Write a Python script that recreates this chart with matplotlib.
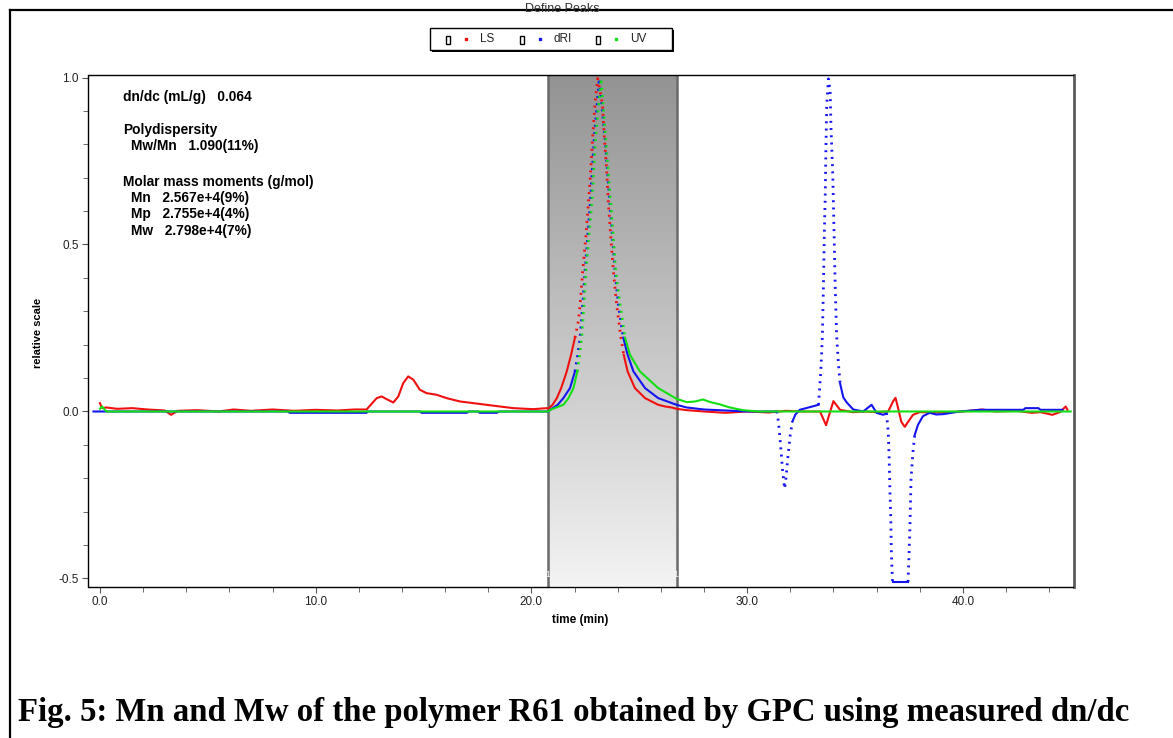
import numpy as np
import matplotlib
matplotlib.use('Agg')
import matplotlib.pyplot as plt
from matplotlib.colors import LinearSegmentedColormap
from matplotlib.patches import Rectangle
from matplotlib.lines import Line2D

plt.rcParams['font.family'] = ['Liberation Sans', 'DejaVu Sans']

# ---- data ----
ls_t = [0.0, 0.1, 0.3, 0.8, 1.5, 2.2, 3.0, 3.3, 3.6, 4.5, 5.5, 6.2, 7.0, 8.0, 9.0, 10.0, 11.0, 11.8,
        12.36, 12.83, 13.06, 13.29, 13.6, 13.83, 14.06, 14.29, 14.53, 14.83, 15.14, 15.61, 16.07, 16.69,
        17.31, 17.92, 18.54, 19.16, 20.09, 20.71, 20.79, 20.98, 21.18, 21.38, 21.64, 21.84, 22.02, 22.18,
        22.26, 22.38, 22.52, 22.64, 22.75, 22.84, 22.95, 23.07, 23.29, 23.38, 23.49, 23.57, 23.68, 23.8,
        23.95, 24.15, 24.28, 24.46, 24.8, 25.27, 25.88, 26.2, 26.5, 26.73, 27.2, 28.0, 29.0, 30.0, 31.0,
        31.8, 32.5, 33.38, 33.66, 34.0, 34.31, 34.92, 35.5, 36.0, 36.54, 36.77, 36.88, 37.0, 37.15, 37.31,
        37.46, 37.69, 38.0, 39.0, 40.0, 40.9, 41.5, 42.5, 43.2, 43.6, 44.15, 44.5, 44.77, 44.85]
ls_v = [0.025, 0.01, 0.012, 0.008, 0.01, 0.006, 0.003, -0.01, 0.002, 0.004, 0.0, 0.006, 0.002, 0.006,
        0.002, 0.005, 0.003, 0.006, 0.006, 0.040, 0.045, 0.037, 0.027, 0.045, 0.085, 0.105, 0.095, 0.065,
        0.055, 0.05, 0.04, 0.03, 0.025, 0.02, 0.015, 0.01, 0.007, 0.01, 0.008, 0.02, 0.04, 0.07, 0.12,
        0.17, 0.221, 0.271, 0.321, 0.421, 0.521, 0.622, 0.722, 0.822, 0.922, 0.997, 0.922, 0.822, 0.722,
        0.622, 0.521, 0.421, 0.321, 0.221, 0.17, 0.12, 0.07, 0.04, 0.02, 0.015, 0.012, 0.008, 0.004, 0.0,
        -0.004, 0.0, -0.003, 0.002, 0.0, 0.0, -0.041, 0.031, 0.005, -0.002, 0.0, -0.002, 0.0, 0.031,
        0.041, 0.01, -0.031, -0.046, -0.031, -0.01, -0.002, -0.003, 0.0, 0.006, 0.0, 0.002, -0.004,
        -0.002, -0.01, -0.002, 0.015, 0.005]

dri_t = [-0.3, 8.7, 8.8, 12.36, 12.4, 14.85, 14.9, 17.0, 17.1, 17.55, 17.6, 18.4, 18.5, 20.79, 20.87,
         21.22, 21.48, 21.79, 22.02, 22.15, 22.26, 22.38, 22.49, 22.73, 22.92, 23.15, 23.41, 23.64, 23.88,
         24.03, 24.26, 24.46, 24.73, 25.27, 25.88, 26.73, 27.2, 28.0, 29.0, 30.0, 31.0, 31.38, 31.45,
         31.55, 31.65, 31.74, 31.8, 31.9, 32.0, 32.1, 32.23, 32.44, 33.08, 33.31, 33.42, 33.49, 33.54,
         33.58, 33.62, 33.65, 33.69, 33.77, 33.85, 33.89, 33.97, 34.03, 34.08, 34.15, 34.23, 34.31, 34.46,
         34.62, 34.92, 35.38, 35.77, 36.0, 36.31, 36.46, 36.54, 36.58, 36.62, 36.66, 36.69, 36.74, 37.46,
         37.5, 37.55, 37.6, 37.69, 37.77, 37.92, 38.15, 38.46, 38.77, 39.08, 39.85, 40.8, 42.8, 42.9,
         43.5, 43.6, 44.62]
dri_v = [0.0, 0.0, -0.004, -0.004, 0.0, 0.0, -0.004, -0.004, 0.0, 0.0, -0.004, -0.004, 0.0, 0.0, 0.005,
         0.02, 0.04, 0.07, 0.12, 0.17, 0.221, 0.321, 0.421, 0.622, 0.822, 0.997, 0.822, 0.622, 0.421,
         0.321, 0.221, 0.17, 0.12, 0.07, 0.04, 0.02, 0.012, 0.006, 0.003, 0.0, 0.0, 0.0, -0.03,
         -0.1, -0.18, -0.231, -0.2, -0.13, -0.07, -0.03, -0.01, 0.005, 0.016, 0.02, 0.125, 0.228, 0.382,
         0.537, 0.64, 0.774, 0.918, 0.996, 0.96, 0.846, 0.712, 0.537, 0.382, 0.228, 0.145, 0.084, 0.042,
         0.027, 0.006, 0.0, 0.02, -0.004, -0.01, -0.005, -0.06, -0.13, -0.236, -0.32, -0.43, -0.51, -0.51,
         -0.44, -0.34, -0.2, -0.12, -0.07, -0.04, -0.014, -0.004, -0.009, -0.008, 0.0, 0.005, 0.005, 0.01,
         0.01, 0.005, 0.005]

uv_t = [0.0, 0.1, 0.3, 20.79, 20.87, 21.48, 21.72, 21.95, 22.13, 22.24, 22.33, 22.44, 22.53, 22.8, 22.98,
        23.23, 23.44, 23.68, 23.91, 24.11, 24.34, 24.57, 25.03, 25.88, 26.73, 27.2, 27.6, 27.95, 28.3,
        28.7, 29.2, 29.8, 30.5, 45.0]
uv_v = [0.008, 0.015, 0.0, 0.0, 0.005, 0.02, 0.04, 0.07, 0.12, 0.17, 0.221, 0.321, 0.421, 0.622, 0.822,
        0.997, 0.822, 0.622, 0.421, 0.321, 0.221, 0.17, 0.12, 0.07, 0.038, 0.028, 0.03, 0.036, 0.028,
        0.022, 0.012, 0.004, 0.0, 0.0]

peak_limits = [20.79, 26.73]
x_ticks = [0, 10, 20, 30, 40]
y_ticks = [-0.5, 0.0, 0.5, 1.0]

info_lines = [
    ("dn/dc (mL/g)   0.064", 123, 97),
    ("Polydispersity", 123, 130),
    ("Mw/Mn   1.090(11%)", 131, 146),
    ("Molar mass moments (g/mol)", 123, 182),
    ("Mn   2.567e+4(9%)", 131, 198),
    ("Mp   2.755e+4(4%)", 131, 214),
    ("Mw   2.798e+4(7%)", 131, 231),
]

RED, BLUE, GREEN = '#f01010', '#1414f0', '#12e012'

W, H = 1173, 738
fig = plt.figure(figsize=(W / 100, H / 100), dpi=100)
fig.patch.set_facecolor('white')

# axes placed in pixel terms
l, r, t, b = 88.5, 1073.5, 75, 586.5
ax = fig.add_axes([l / W, 1 - b / H, (r - l) / W, (b - t) / H])
xlim = (-0.53, 45.13)
ylim = (-0.524, 1.0075)

# shaded peak region with vertical gradient
cmap = LinearSegmentedColormap.from_list('pk', ['#939393', '#f3f3f3'])
grad = np.linspace(0, 1, 256).reshape(-1, 1)
ax.imshow(grad, extent=[peak_limits[0], peak_limits[1], ylim[0], ylim[1]], aspect='auto',
          cmap=cmap, origin='upper', zorder=0)
for p in peak_limits:
    ax.axvline(p, color='#6a6a6a', lw=1.8, zorder=1)
    ax.text(p - 0.05, -0.488, '1', color='#f4f4f4', fontsize=6.5, ha='center', va='center', zorder=1)

px_x = (r - l) / (xlim[1] - xlim[0])
px_y = (b - t) / (ylim[1] - ylim[0])


def draw(tt, vv, color, z):
    # steep stretches were sampled sparsely by the detector software -> dotted look
    tt = np.asarray(tt, float)
    vv = np.asarray(vv, float)
    steep = np.abs(np.diff(vv) / np.diff(tt)) * px_y / px_x > 4.5
    i = 0
    n = len(steep)
    while i < n:
        j = i
        while j < n and steep[j] == steep[i]:
            j += 1
        if steep[i]:
            ax.plot(tt[i:j + 1], vv[i:j + 1], color=color, lw=2.0, ls=(0, (0.7, 1.9)), zorder=z)
        else:
            ax.plot(tt[i:j + 1], vv[i:j + 1], color=color, lw=1.5, zorder=z, solid_joinstyle='round')
        i = j


draw(ls_t, ls_v, RED, 2)
draw(dri_t, dri_v, BLUE, 3)
draw(uv_t, uv_v, GREEN, 4)

ax.set_xlim(*xlim)
ax.set_ylim(*ylim)
ax.set_xticks(x_ticks)
ax.set_xticklabels(['%.1f' % v for v in x_ticks])
ax.set_xticks(np.arange(0, 46, 2), minor=True)
ax.set_yticks(y_ticks)
ax.set_yticklabels(['%.1f' % v for v in y_ticks])
ax.set_yticks(np.arange(-0.5, 1.01, 0.1), minor=True)
ax.tick_params(which='both', direction='out', color='#555555', labelcolor='#222222', labelsize=8.5)
ax.tick_params(which='major', length=4, pad=3)
ax.tick_params(which='minor', length=3.5)
for s in ['left', 'bottom', 'top']:
    ax.spines[s].set_linewidth(1.0)
    ax.spines[s].set_color('black')
ax.spines['right'].set_linewidth(2.0)
ax.spines['right'].set_color('#5c5c5c')

fig.text(38 / W, 1 - 333 / H, 'relative scale', rotation=90, fontsize=8, fontweight='bold',
         ha='center', va='center')
fig.text(580 / W, 1 - 620 / H, 'time (min)', fontsize=8.5, fontweight='bold', ha='center', va='center')

for txt, x, y in info_lines:
    fig.text(x / W, 1 - y / H, txt, fontsize=9.9, fontweight='bold', ha='left', va='center')

# outer frame and title
fig.add_artist(Line2D([10 / W, 1.0], [1 - 10 / H, 1 - 10 / H], color='black', lw=1.6))
fig.add_artist(Line2D([10 / W, 10 / W], [1 - 10 / H, 0.0], color='black', lw=1.6))
fig.text(562 / W, 1 - 9 / H, 'Define Peaks', fontsize=9, color='#333333', ha='center', va='center')

# legend box
fig.add_artist(Rectangle((432 / W, 1 - 52 / H), 242 / W, 22 / H, transform=fig.transFigure,
                         facecolor='black', edgecolor='none'))
fig.add_artist(Rectangle((430 / W, 1 - 50 / H), 242 / W, 22 / H, transform=fig.transFigure,
                         facecolor='white', edgecolor='black', lw=1))
for x0, name, col in [(446, 'LS', RED), (520, 'dRI', BLUE), (596, 'UV', GREEN)]:
    fig.add_artist(Rectangle((x0 / W, 1 - 44 / H), 4 / W, 8 / H, transform=fig.transFigure,
                             facecolor='white', edgecolor='black', lw=1))
    fig.add_artist(Line2D([(x0 + 20) / W], [1 - 39 / H], marker='s', markersize=2, color=col, lw=0))
    fig.text((x0 + 34) / W, 1 - 39 / H, name, fontsize=8.5, ha='left', va='center', color='#222222')

fig.text(18 / W, 1 - 713 / H, 'Fig. 5: Mn and Mw of the polymer R61 obtained by GPC using measured dn/dc',
         fontsize=23.6, fontweight='bold', family=['Liberation Serif', 'DejaVu Serif'], ha='left', va='center')

fig.savefig('out.png', dpi=100)
